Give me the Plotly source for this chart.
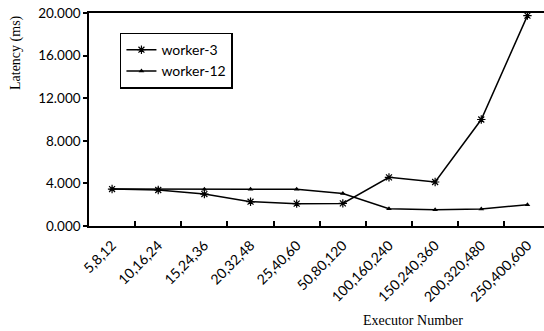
import plotly.graph_objects as go

executors = ["5,8,12", "10,16,24", "15,24,36", "20,32,48", "25,40,60",
             "50,80,120", "100,160,240", "150,240,360", "200,320,480", "250,400,600"]
worker3 = [3.47, 3.38, 3.0, 2.28, 2.1, 2.12, 4.57, 4.13, 10.0, 19.75]
worker12 = [3.47, 3.44, 3.44, 3.44, 3.44, 3.05, 1.63, 1.53, 1.6, 2.0]
y_ticks = [0, 4, 8, 12, 16, 20]

# plot area runs past the right edge of the page, so the last category
# band is cut a little short
x_right = -0.5 + (544 - 89.5) / 46.1

fig = go.Figure()
fig.add_trace(go.Scatter(
    x=executors, y=worker3, name="worker-3", mode="lines+markers",
    line=dict(color="black", width=1.5),
    marker=dict(symbol="asterisk-open", size=7, color="black",
                line=dict(color="black", width=1.2)),
))
fig.add_trace(go.Scatter(
    x=executors, y=worker12, name="worker-12", mode="lines+markers",
    line=dict(color="black", width=1.5),
    marker=dict(symbol="triangle-up", size=5, color="black"),
))

fig.update_layout(
    width=544, height=331,
    margin=dict(l=89, r=0, t=13, b=105),
    paper_bgcolor="white", plot_bgcolor="white",
    font=dict(family="Lato", size=12, color="black"),
    showlegend=True,
    legend=dict(
        x=0.068, y=0.908, xanchor="left", yanchor="top",
        bordercolor="black", borderwidth=1.5, bgcolor="white",
        font=dict(family="Lato", size=14, color="black"),
        tracegroupgap=6,
    ),
    xaxis=dict(
        type="category", range=[-0.5, x_right],
        showline=True, linecolor="black", linewidth=1.5, mirror=True,
        showgrid=False, zeroline=False,
        ticks="inside", ticklen=5, tickcolor="black", tickwidth=1.5,
        tickson="boundaries", tickangle=-45, ticklabelstandoff=4,
        tickfont=dict(family="Lato", size=14, color="black"),
    ),
    yaxis=dict(
        range=[0, 20], tickvals=y_ticks,
        ticktext=[f"{v:.3f}" for v in y_ticks],
        showline=True, linecolor="black", linewidth=1.5, mirror=False,
        showgrid=False, zeroline=False,
        ticks="outside", ticklen=4, tickcolor="black", tickwidth=1.5,
        tickfont=dict(family="Lato", size=13.5, color="black"),
    ),
    annotations=[
        dict(
            text="Executor Number", xref="paper", yref="paper",
            x=(413 - 89) / 455, y=-(320 - 226) / 213,
            xanchor="center", yanchor="middle", showarrow=False,
            font=dict(family="Liberation Serif", size=14, color="black"),
        ),
        dict(
            text="Latency (ms)", xref="paper", yref="paper",
            x=-(89 - 16) / 455, y=(226 - 53) / 213, textangle=-90,
            xanchor="center", yanchor="middle", showarrow=False,
            font=dict(family="Liberation Serif", size=14, color="black"),
        ),
    ],
)

fig.write_html("out.html")
